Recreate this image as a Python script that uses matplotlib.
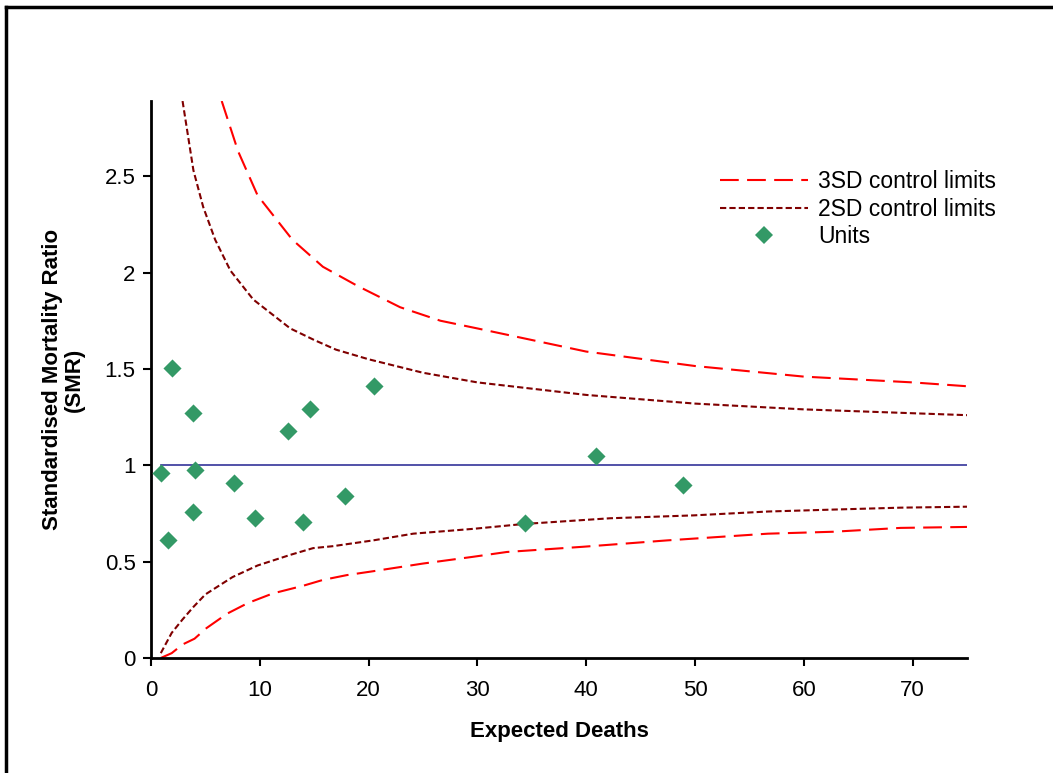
import numpy as np
import matplotlib
matplotlib.use('Agg')
import matplotlib.pyplot as plt
from matplotlib.lines import Line2D

plt.rcParams['font.family'] = ['Liberation Sans', 'DejaVu Sans']

# control limits
upper_3sd_x = [6.5, 8.0, 9.8, 13.0, 15.8, 19.0, 22.9, 26.6, 30, 40, 50, 60, 70, 75]
upper_3sd_y = [2.89, 2.63, 2.40, 2.17, 2.03, 1.93, 1.82, 1.75, 1.71, 1.59, 1.515, 1.46, 1.43, 1.41]

upper_2sd_x = [2.9, 3.9, 4.8, 5.9, 7.3, 9.4, 12.8, 15, 17, 20, 25, 30, 40, 50, 60, 70, 75]
upper_2sd_y = [2.89, 2.53, 2.34, 2.17, 2.01, 1.86, 1.71, 1.65, 1.60, 1.55, 1.48, 1.43, 1.365, 1.32, 1.29, 1.27, 1.26]

lower_2sd_x = [0.9, 1.9, 2.9, 3.9, 5.0, 7.5, 9.8, 12.8, 14.9, 16.7, 20.4, 24.1, 29.6, 34.2,
               42.2, 49.9, 56.7, 62.7, 68.9, 75]
lower_2sd_y = [0.025, 0.13, 0.20, 0.265, 0.33, 0.42, 0.48, 0.535, 0.57, 0.58, 0.61, 0.645, 0.67, 0.695,
               0.725, 0.74, 0.76, 0.77, 0.78, 0.785]

lower_3sd_x = [0.9, 1.9, 2.9, 4.0, 5.1, 7.0, 8.9, 11.2, 14.0, 15.8, 18.0, 20.4, 25.0, 29.6, 32.7,
               39.7, 47.4, 56.7, 62.7, 68.9, 75]
lower_3sd_y = [0.0, 0.025, 0.07, 0.10, 0.155, 0.23, 0.285, 0.335, 0.375, 0.405, 0.43, 0.45, 0.49, 0.525, 0.55,
               0.577, 0.61, 0.645, 0.655, 0.675, 0.68]

# units
unit_expected = [1.9, 3.9, 12.6, 14.6, 20.5, 0.9, 4.0, 7.6, 17.8, 3.9, 9.6, 14.0, 1.6, 34.4, 40.9, 48.9]
unit_smr = [1.505, 1.27, 1.18, 1.29, 1.41, 0.96, 0.975, 0.91, 0.84, 0.76, 0.725, 0.705, 0.61, 0.70, 1.05, 0.895]

target_x = [0.9, 75]
target_y = [1.0, 1.0]

fig = plt.figure(figsize=(10.53, 7.73), dpi=100)
ax = fig.add_axes([0.1434, 0.1488, 0.9183 - 0.1434, 0.8693 - 0.1488])

red = '#ff0000'
dred = '#800000'
green = '#339966'

ax.plot(upper_3sd_x, upper_3sd_y, color=red, lw=1.5, dashes=(9, 4))
ax.plot(lower_3sd_x, lower_3sd_y, color=red, lw=1.5, dashes=(9, 4))
ax.plot(upper_2sd_x, upper_2sd_y, color=dred, lw=1.5, dashes=(3, 1.5))
ax.plot(lower_2sd_x, lower_2sd_y, color=dred, lw=1.5, dashes=(3, 1.5))
ax.plot(target_x, target_y, color='#333399', lw=1.2)
ax.scatter(unit_expected, unit_smr, marker='D', s=85, color=green, zorder=5, linewidths=0)

ax.set_xlim(0, 75)
ax.set_ylim(0, 2.89)
ax.set_xticks(np.arange(0, 71, 10))
ax.set_yticks([0, 0.5, 1, 1.5, 2, 2.5])
ax.set_yticklabels(['0', '0.5', '1', '1.5', '2', '2.5'])
ax.tick_params(labelsize=16, width=1.5, length=6, direction='out')
ax.tick_params(axis='x', pad=10)
ax.tick_params(axis='y', pad=5)

for s in ['top', 'right']:
    ax.spines[s].set_visible(False)
for s in ['left', 'bottom']:
    ax.spines[s].set_linewidth(2)

ax.set_xlabel('Expected Deaths', fontsize=16, fontweight='bold', labelpad=14)
ax.set_ylabel('Standardised Mortality Ratio\n(SMR)', fontsize=16, fontweight='bold',
              labelpad=14, linespacing=1.05)

handles = [
    Line2D([], [], color=red, lw=1.5, dashes=(9, 4)),
    Line2D([], [], color=dred, lw=1.5, dashes=(3, 1.5)),
    Line2D([], [], color=green, marker='D', ms=9, ls='none', mew=0),
]
ax.legend(handles, ['3SD control limits', '2SD control limits', 'Units'],
          loc='upper left', bbox_to_anchor=(0.697, 0.876), frameon=False,
          borderaxespad=0, borderpad=0,
          fontsize=16.5, handlelength=3.85, handletextpad=0.45, labelspacing=0.2)

# outer chart frame (only top and left edges fall inside the image)
fig.add_artist(Line2D([0.0057, 1.0], [0.991, 0.991], color='black', lw=2.5, transform=fig.transFigure))
fig.add_artist(Line2D([0.0057, 0.0057], [0.0, 0.991], color='black', lw=2.5, transform=fig.transFigure))

fig.savefig('out.png', dpi=100)
